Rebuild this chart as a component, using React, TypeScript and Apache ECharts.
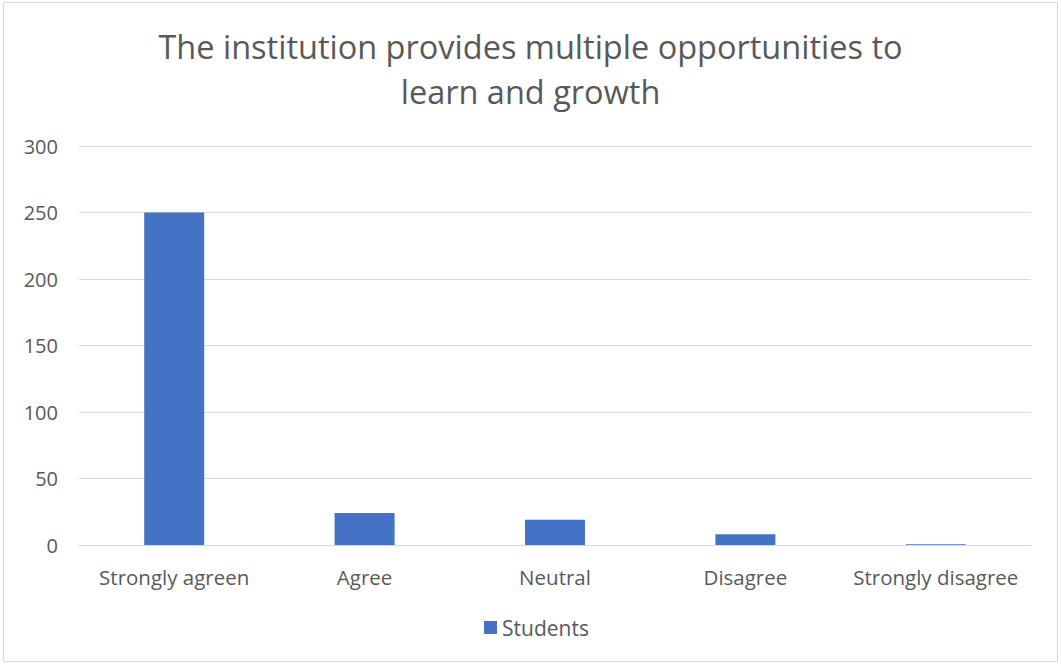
import React, { useEffect, useRef } from "react";
import * as echarts from "echarts";

const categories = ["Strongly agreen", "Agree", "Neutral", "Disagree", "Strongly disagree"];
const students = [250, 24, 19, 8, 0.5];
const seriesName = "Students";
const titleText = "The institution provides multiple opportunities to\nlearn and growth";

export default function App() {
  const ref = useRef<HTMLDivElement>(null);
  useEffect(() => {
    document.body.style.margin = "0";
    const chart = echarts.init(ref.current!, null, { renderer: "svg" });
    const font = "'Open Sans', sans-serif";
    chart.setOption({
      animation: false,
      backgroundColor: "#ffffff",
      title: {
        text: titleText,
        left: "center",
        top: 19,
        textStyle: { fontFamily: font, fontSize: 32.5, fontWeight: "normal", color: "#595959", lineHeight: 45 },
      },
      grid: { left: 79, right: 30, top: 146, bottom: 120, containLabel: false },
      xAxis: {
        type: "category",
        data: categories,
        axisLine: { lineStyle: { color: "#d9d9d9", width: 1 } },
        axisTick: { show: false },
        axisLabel: { fontFamily: font, fontSize: 20.5, color: "#595959", margin: 21, interval: 0 },
      },
      yAxis: {
        type: "value",
        min: 0,
        max: 300,
        interval: 50,
        axisLine: { show: false },
        axisTick: { show: false },
        splitLine: { lineStyle: { color: "#d9d9d9", width: 1 } },
        axisLabel: { fontFamily: font, fontSize: 20, color: "#595959", margin: 21 },
      },
      legend: {
        data: [seriesName],
        bottom: 22,
        left: 479,
        icon: "rect",
        itemWidth: 13,
        itemHeight: 13,
        itemGap: 6,
        textStyle: { fontFamily: font, fontSize: 21, color: "#595959" },
      },
      series: [
        {
          name: seriesName,
          type: "bar",
          data: students,
          barWidth: "31.5%",
          itemStyle: { color: "#4472c4" },
        },
      ],
      graphic: [
        {
          type: "rect",
          shape: { x: 3.5, y: 2.5, width: 1054, height: 659 },
          style: { fill: "none", stroke: "#d9d9d9", lineWidth: 1 },
          silent: true,
        },
      ],
    });
    return () => chart.dispose();
  }, []);
  return <div ref={ref} style={{ width: 1061, height: 665 }} />;
}
